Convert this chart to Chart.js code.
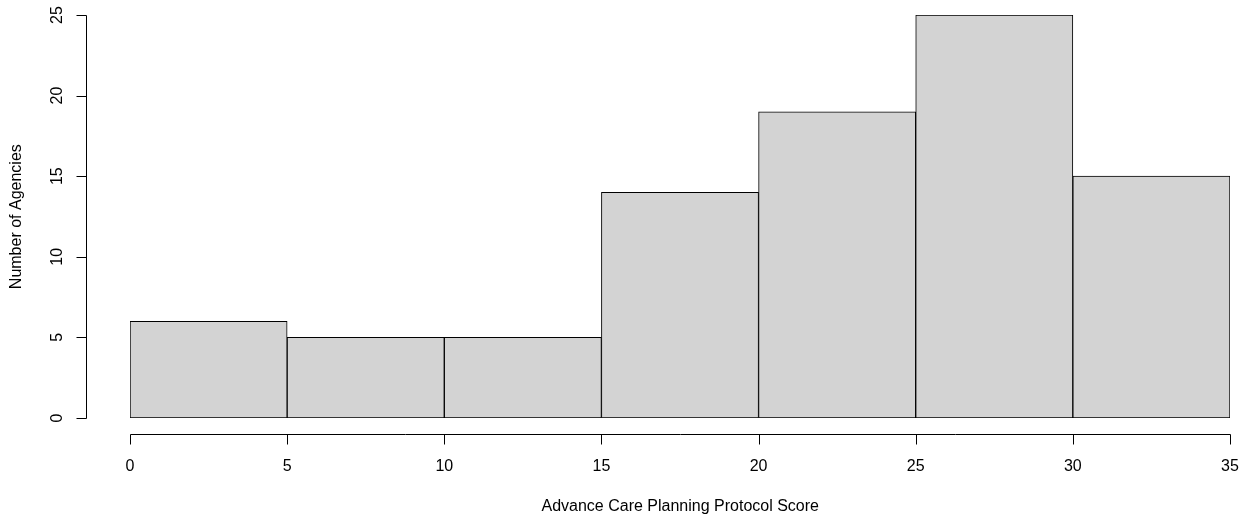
<!DOCTYPE html>
<html lang="en">
<head>
  <meta charset="UTF-8" />
  <title>Advance Care Planning Protocol Score</title>
  <script src="https://cdn.jsdelivr.net/npm/chart.js"></script>
  <style>
    html, body { margin: 0; padding: 0; background: #fff; }
    #wrap { width: 1249px; height: 516px; }
  </style>
</head>
<body>
  <div id="wrap"><canvas id="hist" width="1249" height="516"></canvas></div>
  <script>
    // histogram bins (lower / upper edges) and counts
    const binStarts = [0, 5, 10, 15, 20, 25, 30];
    const binEnds = [5, 10, 15, 20, 25, 30, 35];
    const counts = [6, 5, 5, 14, 19, 25, 15];
    const xTicks = [0, 5, 10, 15, 20, 25, 30, 35];
    const yTicks = [0, 5, 10, 15, 20, 25];
    const xTitle = 'Advance Care Planning Protocol Score';
    const yTitle = 'Number of Agencies';

    const FONT = '16px "Liberation Sans", Arial, sans-serif';

    // R-style detached axes, drawn from the chart's own scales
    const rAxes = {
      id: 'rAxes',
      afterDraw(chart) {
        const c = chart.ctx;
        const xs = chart.scales.x;
        const ys = chart.scales.y;
        const xRange = xs.max - xs.min;
        const yRange = ys.max - ys.min;
        const axisX = Math.round(xs.getPixelForValue(xs.min - 0.04 * xRange)) + 0.5;
        const axisY = Math.round(ys.getPixelForValue(ys.min - 0.04 * yRange)) + 0.5;
        c.save();
        c.strokeStyle = '#000';
        c.fillStyle = '#000';
        c.lineWidth = 1;
        c.font = FONT;

        // x axis
        const x0 = Math.round(xs.getPixelForValue(xTicks[0])) + 0.5;
        const x1 = Math.round(xs.getPixelForValue(xTicks[xTicks.length - 1])) + 0.5;
        c.beginPath();
        c.moveTo(x0, axisY); c.lineTo(x1, axisY);
        xTicks.forEach(v => {
          const px = Math.round(xs.getPixelForValue(v)) + 0.5;
          c.moveTo(px, axisY); c.lineTo(px, axisY + 10);
        });
        c.stroke();
        c.textAlign = 'center';
        c.textBaseline = 'middle';
        xTicks.forEach(v => c.fillText(String(v), xs.getPixelForValue(v), axisY + 32));

        // y axis
        const y0 = Math.round(ys.getPixelForValue(yTicks[0])) + 0.5;
        const y1 = Math.round(ys.getPixelForValue(yTicks[yTicks.length - 1])) + 0.5;
        c.beginPath();
        c.moveTo(axisX, y0); c.lineTo(axisX, y1);
        yTicks.forEach(v => {
          const py = Math.round(ys.getPixelForValue(v)) + 0.5;
          c.moveTo(axisX, py); c.lineTo(axisX - 10, py);
        });
        c.stroke();
        yTicks.forEach(v => {
          c.save();
          c.translate(axisX - 29, ys.getPixelForValue(v));
          c.rotate(-Math.PI / 2);
          c.fillText(String(v), 0, 0);
          c.restore();
        });

        // titles
        const plotLeft = axisX;
        const plotRight = xs.getPixelForValue(xs.max + 0.04 * xRange);
        c.fillText(xTitle, (plotLeft + plotRight) / 2, axisY + 72);
        const plotTop = ys.getPixelForValue(ys.max + 0.04 * yRange);
        c.save();
        c.translate(17, (plotTop + axisY) / 2);
        c.rotate(-Math.PI / 2);
        c.fillText(yTitle, 0, 0);
        c.restore();
        c.restore();
      }
    };

    const ctx = document.getElementById('hist').getContext('2d');
    new Chart(ctx, {
      type: 'bar',
      data: {
        datasets: [{
          data: counts.map((n, i) => ({ x: (binStarts[i] + binEnds[i]) / 2, y: n })),
          backgroundColor: '#d3d3d3',
          borderColor: '#000',
          borderWidth: 1,
          borderSkipped: false,
          barPercentage: 1,
          categoryPercentage: 1
        }]
      },
      options: {
        responsive: false,
        animation: false,
        layout: { padding: { left: 130, right: 19, top: 15, bottom: 98 } },
        plugins: { legend: { display: false }, tooltip: { enabled: false } },
        scales: {
          x: { type: 'linear', min: 0, max: 35, offset: false, display: false },
          y: { type: 'linear', min: 0, max: 25, display: false }
        }
      },
      plugins: [rAxes]
    });
  </script>
</body>
</html>
